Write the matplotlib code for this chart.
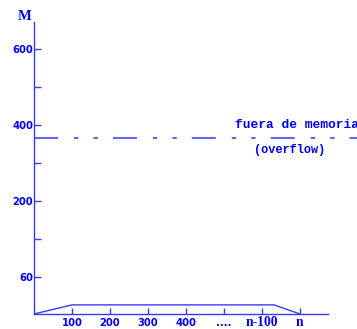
import matplotlib
matplotlib.use("Agg")
import matplotlib.pyplot as plt

# Memory profile: usage rises, holds a plateau, then falls back
x_ticks = [100, 200, 300, 400, 500, 600, 700]
x_labels = ["100", "200", "300", "400", "....", "n-100", "n"]
y_ticks = [0, 100, 200, 300, 400, 500, 600]
y_labels = ["60", "", "200", "", "400", "", "600"]

profile_x = [0, 100, 632, 700]
profile_y = [-97, -73, -73, -97]
overflow_level = 366

BLUE = "#3a3aff"
TEXT = "#0000ee"

plt.rcParams["lines.scale_dashes"] = False

fig = plt.figure(figsize=(3.57, 3.29), dpi=100)
W, H = 357, 329
ax = fig.add_axes([34 / W, (H - 314) / H, (328 - 34) / W, (314 - 22) / H])
ax.set_xlim(0, 774)
ax.set_ylim(-97, 671)

for s in ("top", "right"):
    ax.spines[s].set_visible(False)
for s in ("left", "bottom"):
    ax.spines[s].set_color(BLUE)
    ax.spines[s].set_linewidth(1.0)

ax.plot(profile_x, profile_y, color=BLUE, lw=1.0, solid_capstyle="butt", clip_on=False)

# Memory limit line
ax.plot([0, 1000], [overflow_level, overflow_level], color="#6464ff", lw=1.5,
        dashes=[17.3, 11.5, 3.2, 10.8, 3.2, 10.8], clip_on=False)

ax.set_xticks(x_ticks)
ax.set_xticklabels(x_labels)
ax.set_yticks(y_ticks)
ax.set_yticklabels(y_labels)
ax.tick_params(axis="x", direction="in", length=4.5, width=1.0, color=BLUE, pad=8.8)
ax.tick_params(axis="y", direction="in", length=5.0, width=1.0, color=BLUE, pad=0.5)

for lab in ax.get_xticklabels():
    t = lab.get_text()
    if t.startswith("n"):
        lab.set_fontfamily("Liberation Serif")
        lab.set_fontsize(9.8)
    else:
        lab.set_fontfamily("DejaVu Sans")
        lab.set_fontsize(7.2)
    lab.set_verticalalignment("baseline")
    lab.set_fontweight("bold")
    lab.set_color(TEXT)
for lab in ax.get_yticklabels():
    lab.set_fontfamily("DejaVu Sans")
    lab.set_fontsize(7.2)
    lab.set_fontweight("bold")
    lab.set_color(TEXT)

fig.text(24.5 / W, 1 - 16 / H, "M", family="Liberation Serif", fontweight="bold",
         fontsize=10.5, color=TEXT, ha="center", va="center")
fig.text(235 / W, 1 - 125 / H, "fuera de memoria", family="Liberation Mono",
         fontweight="bold", fontsize=9.3, color=TEXT, ha="left", va="center")
fig.text(290 / W, 1 - 150 / H, "(overflow)", family="Liberation Mono",
         fontweight="bold", fontsize=8.6, color=TEXT, ha="center", va="center")

fig.savefig("out.png", dpi=100)
